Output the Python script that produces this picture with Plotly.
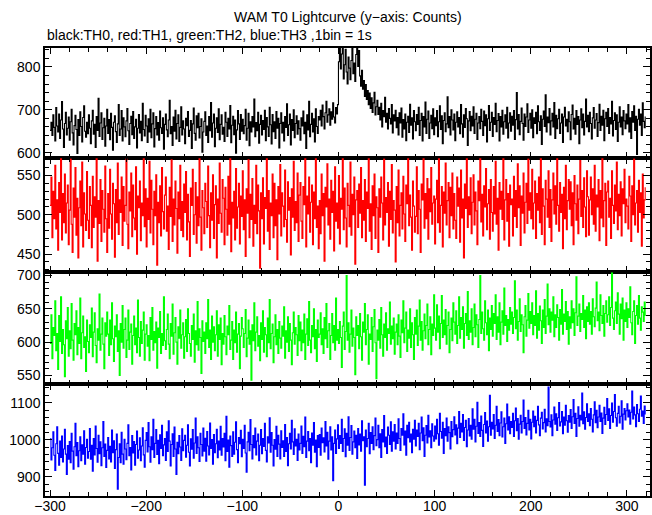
import plotly.graph_objects as go
from plotly.subplots import make_subplots

# time bins (1 s) relative to T0
time_s = list(range(-300, 320))

TH0 = [int(v) for v in """
652 671 640 688 659 627 705 662 648 690 633 676 719 655 612 668 694 641 657 683
629 672 701 646 618 663 687 654 598 677 640 695 661 625 682 709 650 636 671 644
688 657 621 674 699 643 666 612 684 652 727 638 669 693 631 658 680 615 662 701
645 677 630 692 659 606 671 686 649 624 667 712 640 655 698 627 681 660 637 674
703 651 619 668 685 642 696 633 660 678 611 657 689 646 673 628 715 654 639 687
662 624 679 648 701 635 667 693 613 656 684 641 670 629 697 658 645 681 608 666
690 653 637 676 722 644 661 617 683 650 699 632 668 688 626 659 707 641 674 655
621 680 663 696 638 652 675 610 667 704 645 629 686 658 692 634 661 679 601 648
673 695 640 662 624 684 651 717 636 669 690 614 657 681 647 702 630 666 688 643
659 626 694 671 638 680 655 710 623 664 685 642 676 599 653 698 667 631 689 650
678 644 663 701 629 657 692 616 672 648 684 660 725 637 670 651 694 622 666 687
641 675 654 699 628 682 660 638 706 665 620 689 649 672 633 696 657 680 611 668
693 646 671 627 684 659 714 640 665 690 618 677 652 700 635 668 686 643 674 656
629 681 662 697 644 671 610 688 653 720 637 666 692 648 679 625 702 661 645 684
676 699 662 711 684 655 693 720 671 688 702 664 695 678 716 683 669 705 690 712
812 848 795 830 856 772 805 841 788 760 823 797 770 815 852 784 809 766 829 862
801 838 779 755 792 748 768 731 759 724 745 712 739 703 728 694 716 741 688 707
722 689 706 676 715 660 698 684 729 671 692 655 703 680 667 712 646 688 674 699
658 682 641 693 669 704 636 677 655 690 628 671 685 647 713 664 681 632 698 672
651 689 666 706 640 675 692 627 684 660 718 645 678 697 633 669 687 656 702 642
681 663 698 637 672 709 654 686 621 675 693 649 667 730 658 684 641 700 676 653
690 628 671 695 660 682 644 712 667 636 688 659 703 679 617 674 696 651 685 662
707 645 678 692 631 669 684 656 701 673 640 697 663 688 625 679 710 652 671 694
638 682 666 715 649 675 691 627 684 660 699 643 672 688 657 706 634 669 693 650
685 664 698 631 677 740 655 689 642 673 704 668 629 690 661 683 714 647 676 692
657 700 635 681 668 694 644 709 672 652 686 619 678 697 661 735 648 683 670 703
641 674 692 660 717 633 687 656 679 701 645 669 690 624 683 706 662 678 649 695
672 630 689 711 655 680 643 698 666 684 621 676 702 658 690 641 673 725 660 687
649 694 668 632 681 705 657 676 691 638 670 713 652 685 664 699 628 679 694 661
703 645 682 667 720 639 675 693 654 688 626 671 707 660 683 642 698 674 656 690
667 712 648 681 633 696 671 709 652 685 596 678 701 664 690 640 716 673 658 684
""".split()]

TH1 = [int(v) for v in """
512 548 471 530 495 563 482 519 455 541 503 576 468 527 490 552 477 515 538 462
506 571 488 452 534 497 560 474 521 445 509 543 486 567 459 528 501 480 555 493
470 536 512 458 549 484 523 497 574 441 518 489 545 466 531 507 478 562 495 452
527 483 558 501 469 540 514 446 532 490 566 475 519 503 548 461 536 492 512 571
488 457 529 505 553 472 538 496 481 561 450 524 509 543 467 515 499 578 485 533
459 521 494 568 477 544 507 462 530 499 551 436 516 490 537 473 560 504 482 525
548 479 511 456 535 498 570 466 520 487 543 508 451 529 495 563 480 517 472 539
503 555 468 526 491 447 534 512 558 475 500 541 464 523 486 572 497 455 531 509
476 540 517 484 562 499 458 528 493 551 470 513 537 445 520 489 566 502 478 545
521 462 535 507 474 549 488 576 453 516 496 530 468 559 483 510 540 463 524 498
556 481 519 447 533 502 570 471 526 494 546 460 512 489 563 476 538 505 432 528
495 547 463 522 508 574 479 531 456 515 499 552 471 540 486 519 443 536 501 564
473 528 511 485 557 494 465 542 506 522 449 533 497 568 480 517 490 553 466 525
541 492 470 536 513 580 459 524 501 548 478 516 538 462 529 495 574 484 511 457
518 476 552 499 527 441 535 510 565 487 520 469 544 503 530 454 561 492 515 483
550 463 521 507 573 481 534 496 459 540 512 485 567 474 526 500 548 437 519 531
484 539 502 560 471 518 493 545 466 529 508 576 479 514 456 537 499 552 470 523
509 452 533 497 548 515 468 571 487 522 503 541 460 530 494 564 477 518 506 440
536 490 557 473 512 528 482 549 501 466 538 514 580 486 525 497 455 543 511 478
498 561 476 531 507 452 539 519 572 483 527 495 546 469 533 504 560 488 515 524
463 520 544 490 577 478 512 536 459 529 502 566 487 518 541 471 535 499 553 482
527 493 470 548 511 534 465 557 496 520 445 539 508 574 484 523 500 547 476 516
551 487 529 505 462 543 518 580 491 526 473 537 510 559 481 514 532 469 545 503
479 536 501 568 488 521 455 541 507 530 494 576 468 519 545 492 527 460 538 513
520 473 549 498 531 484 565 509 537 461 524 502 553 477 516 540 489 571 506 528
495 558 482 515 543 470 527 506 548 490 580 475 533 511 462 544 520 497 556 484
532 466 519 553 501 537 488 572 512 479 541 503 526 457 535 495 563 481 518 545
507 542 486 528 462 550 514 493 538 476 520 569 498 531 484 547 510 472 556 523
474 519 548 500 533 488 563 479 525 510 545 467 531 496 574 485 518 540 461 529
543 497 521 470 556 512 489 538 505 567 481 526 499 542 473 533 514 558 490 520
511 482 549 524 466 537 500 571 487 515 531 478 544 503 528 460 552 496 519 535
""".split()]

TH2 = [int(v) for v in """
598 641 575 622 610 662 587 613 559 640 601 668 583 619 596 548 632 605 652 579
617 590 658 603 573 628 611 647 581 622 598 666 575 614 639 592 608 556 633 601
584 626 607 651 578 615 644 595 569 620 603 672 588 612 636 597 560 629 609 645
612 580 633 596 659 605 571 624 608 641 586 617 550 628 600 655 591 619 636 577
603 648 589 615 627 567 610 639 596 621 584 663 607 579 631 598 618 645 573 612
626 594 610 572 637 604 652 588 616 599 630 561 621 607 646 583 613 595 668 602
589 619 642 597 575 628 609 657 582 614 637 600 567 623 606 648 591 611 629 576
608 634 586 650 613 598 579 625 604 642 570 617 596 661 588 620 607 553 632 601
615 583 629 605 664 592 618 574 639 600 623 587 611 647 579 626 604 636 566 613
597 640 608 581 624 611 655 589 603 631 574 618 599 645 585 612 628 560 609 637
620 592 613 649 578 606 633 597 617 543 626 602 659 587 615 638 594 610 572 629
604 647 585 622 611 578 636 599 664 590 613 627 569 608 641 596 619 583 631 606
591 624 609 653 576 617 600 638 586 628 603 566 614 645 597 622 611 580 640 602
630 587 618 599 642 574 612 635 595 661 603 584 625 608 650 590 619 571 633 607
612 644 596 620 583 637 605 658 592 617 628 574 610 643 599 625 588 666 603 619
598 631 607 562 624 645 589 616 700 603 629 585 612 648 594 621 607 551 638 610
625 590 643 608 573 630 615 658 596 619 641 567 612 604 637 586 623 649 599 545
618 603 634 591 652 611 579 627 607 644 588 620 613 660 597 624 605 636 582 615
627 596 641 609 577 633 614 662 599 621 645 586 618 606 650 592 629 611 574 637
612 648 595 624 663 603 631 588 617 642 605 625 657 596 619 638 581 627 610 671
621 603 656 615 639 590 628 670 607 633 611 649 597 625 645 584 619 636 602 659
630 612 647 598 625 668 606 637 619 653 591 628 643 610 676 604 632 615 650 596
622 657 608 641 626 592 634 700 613 645 620 603 662 629 611 648 587 636 619 655
609 643 628 671 604 638 615 659 596 630 647 612 681 625 640 601 634 618 652 627
645 613 637 692 620 648 603 631 665 616 641 626 584 638 655 609 633 673 621 646
628 659 611 640 625 677 606 643 618 654 632 598 648 622 664 613 639 687 626 650
615 645 633 668 608 641 622 656 637 603 649 627 679 612 642 631 661 619 646 597
638 621 662 629 650 610 644 698 625 639 657 616 643 634 670 622 648 605 653 631
659 627 646 612 665 638 623 651 690 632 645 617 671 640 628 655 609 643 662 630
641 668 625 652 704 636 619 647 660 628 674 642 612 657 635 666 603 648 631 659
622 650 637 683 629 611 646 662 598 640 655 627 670 636 618 653 645 631 660 639
""".split()]

TH3 = [int(v) for v in """
1002 945 978 1021 958 917 989 1035 963 931 996 952 1010 940 975 1028 961 906 984 947
995 938 1017 969 920 981 1044 957 992 927 970 1008 943 986 961 1024 934 979 1001 950
968 1030 947 985 915 1003 959 1037 976 939 1012 962 994 930 978 1049 955 988 925 971
1006 948 982 940 1026 965 997 922 973 1015 866 952 989 938 1020 961 934 1001 975 946
990 1040 957 979 918 1011 964 995 931 987 1023 950 972 1005 943 983 1032 959 926 998
1019 967 1046 981 939 1008 973 1055 952 990 1027 960 998 935 1013 976 1039 957 986 1003
944 1021 968 1051 996 929 987 1016 955 1034 975 906 993 962 1011 980 944 1029 970 998
1012 953 985 1040 966 929 1002 974 1027 950 991 1058 963 1008 978 941 1017 987 956 1031
969 1004 942 1022 983 959 1045 976 1000 934 1014 965 989 1028 951 996 972 1036 958 1003
980 1017 943 1063 968 999 926 1010 984 955 1021 961 993 1048 973 938 1006 989 1025 954
1001 976 1039 964 912 994 1020 970 1054 987 948 1011 978 1031 959 996 1015 943 985 1027
962 1003 982 1044 971 940 1008 991 1059 966 1019 985 929 1000 974 1036 955 1012 988 948
1024 979 997 955 1041 968 1006 930 989 1017 975 1052 994 960 1029 983 1001 944 1015 972
990 1037 963 1009 981 1061 952 996 1022 970 1003 938 1018 985 1046 966 999 927 1011 979
1014 958 1031 992 1005 967 1049 983 1020 947 996 1035 972 1008 889 990 1026 963 1002 1040
976 1011 990 1055 968 1003 1029 954 1017 985 1062 971 1006 1038 961 994 1023 978 1012 949
1030 986 1015 969 1051 997 1008 877 1026 981 1003 1044 962 1019 990 1035 973 1011 1058 984
1000 1039 978 1016 952 1027 994 1065 981 1007 963 1034 1012 987 1048 969 1021 996 1041 975
1018 990 1056 1003 971 1030 1012 1070 986 1023 958 1039 1005 1047 994 1015 965 1028 1001 1052
983 1026 1009 1044 973 1018 1061 997 1032 955 1012 1038 991 1066 1007 1024 978 1043 1010 996
1037 1002 1055 1016 985 1071 1022 1004 1047 963 1030 1011 1058 996 1035 1019 975 1049 1008 1027
1062 1013 1040 989 1031 1076 1006 1044 1021 1068 998 1033 1052 981 1026 1057 1010 1039 1001 1083
1028 1055 994 1036 1101 1017 1046 1009 1064 1025 982 1041 1073 1018 1050 996 1035 1120 1012 1047
1029 1068 1003 1039 1090 1022 1054 1011 1045 1075 1007 1035 1058 990 1043 1096 1026 1062 1016 1049
1033 1071 1009 1051 1085 1024 1057 1001 1042 1066 1018 1049 1107 1030 1060 1013 1044 1079 1026 1055
1002 1047 1077 1035 1063 1018 1052 1090 1040 1011 1058 1074 1029 1046 1082 1021 1056 1038 1142 1049
1034 1067 1011 1053 1088 1042 1070 1025 1059 1100 1037 1048 1076 1016 1061 1039 1093 1051 1020 1065
1047 1081 1030 1062 1108 1044 1071 1009 1057 1089 1036 1066 1053 1126 1043 1075 1028 1060 1097 1049
1070 1038 1084 1055 1021 1067 1102 1046 1079 1032 1061 1093 1049 1072 1017 1058 1087 1041 1068 1111
1052 1083 1030 1065 1099 1047 1076 1122 1059 1036 1071 1090 1045 1063 1105 1028 1069 1084 1053 1078
1097 1061 1080 1042 1074 1131 1056 1088 1067 1035 1095 1070 1049 1082 1118 1063 1077 1044 1091 1068
""".split()]

series = [TH0, TH1, TH2, TH3]
colors = ["#000000", "#ff0000", "#00ff00", "#0000ff"]
y_ranges = [[587, 844], [427, 572], [537, 705], [848, 1150]]
y_dticks = [100, 50, 50, 100]
y_minor = [20, 10, 10, 20]

FONT = "Liberation Sans, Arial, sans-serif"

fig = make_subplots(rows=4, cols=1, shared_xaxes=True, vertical_spacing=0,
                    row_heights=[110.3, 114, 112, 112])

for i, (ys, c) in enumerate(zip(series, colors)):
    fig.add_trace(go.Scatter(x=time_s, y=ys, mode="lines", line=dict(color=c, width=1.1, shape="hv"),
                             showlegend=False, hoverinfo="skip"), row=i + 1, col=1)
    fig.update_yaxes(range=y_ranges[i], dtick=y_dticks[i], tick0=0, ticks="inside", ticklen=7,
                     tickwidth=1.2, tickcolor="black", showline=True, linecolor="black", linewidth=1.5,
                     mirror="allticks", showgrid=False, zeroline=False, automargin=False,
                     minor=dict(dtick=y_minor[i], tick0=0, ticks="inside", ticklen=4, tickcolor="black", tickwidth=1),
                     tickfont=dict(family=FONT, size=14, color="black"),
                     row=i + 1, col=1)
    fig.update_xaxes(range=[-305.2, 324], dtick=100, tick0=0, ticks="inside", ticklen=6, tickwidth=1.2,
                     tickcolor="black", showline=True, linecolor="black", linewidth=1.5, mirror="allticks",
                     showgrid=False, zeroline=False, automargin=False, ticklabelstandoff=-4,
                     minor=dict(dtick=20, tick0=0, ticks="inside", ticklen=4, tickcolor="black", tickwidth=1),
                     tickfont=dict(family=FONT, size=14, color="black"),
                     row=i + 1, col=1)

fig.add_annotation(text="WAM T0 Lightcurve (y\u2212axis: Counts)", xref="paper", yref="paper",
                   x=0.5, y=1 + (48 - 17) / 448, xanchor="center", yanchor="middle", showarrow=False,
                   font=dict(family=FONT, size=14, color="black"))
fig.add_annotation(text="black:TH0, red:TH1, green:TH2, blue:TH3 ,1bin = 1s", xref="paper", yref="paper",
                   x=0.0, y=1 + (48 - 35) / 448, xanchor="left", yanchor="middle", showarrow=False,
                   font=dict(family=FONT, size=14, color="black"))

fig.update_layout(width=652, height=515, margin=dict(l=45, r=2, t=48, b=19),
                  paper_bgcolor="white", plot_bgcolor="white", showlegend=False)

fig.write_html("out.html", config={"displayModeBar": False},
               post_script="document.body.style.margin='0';document.body.style.overflow='hidden';")
